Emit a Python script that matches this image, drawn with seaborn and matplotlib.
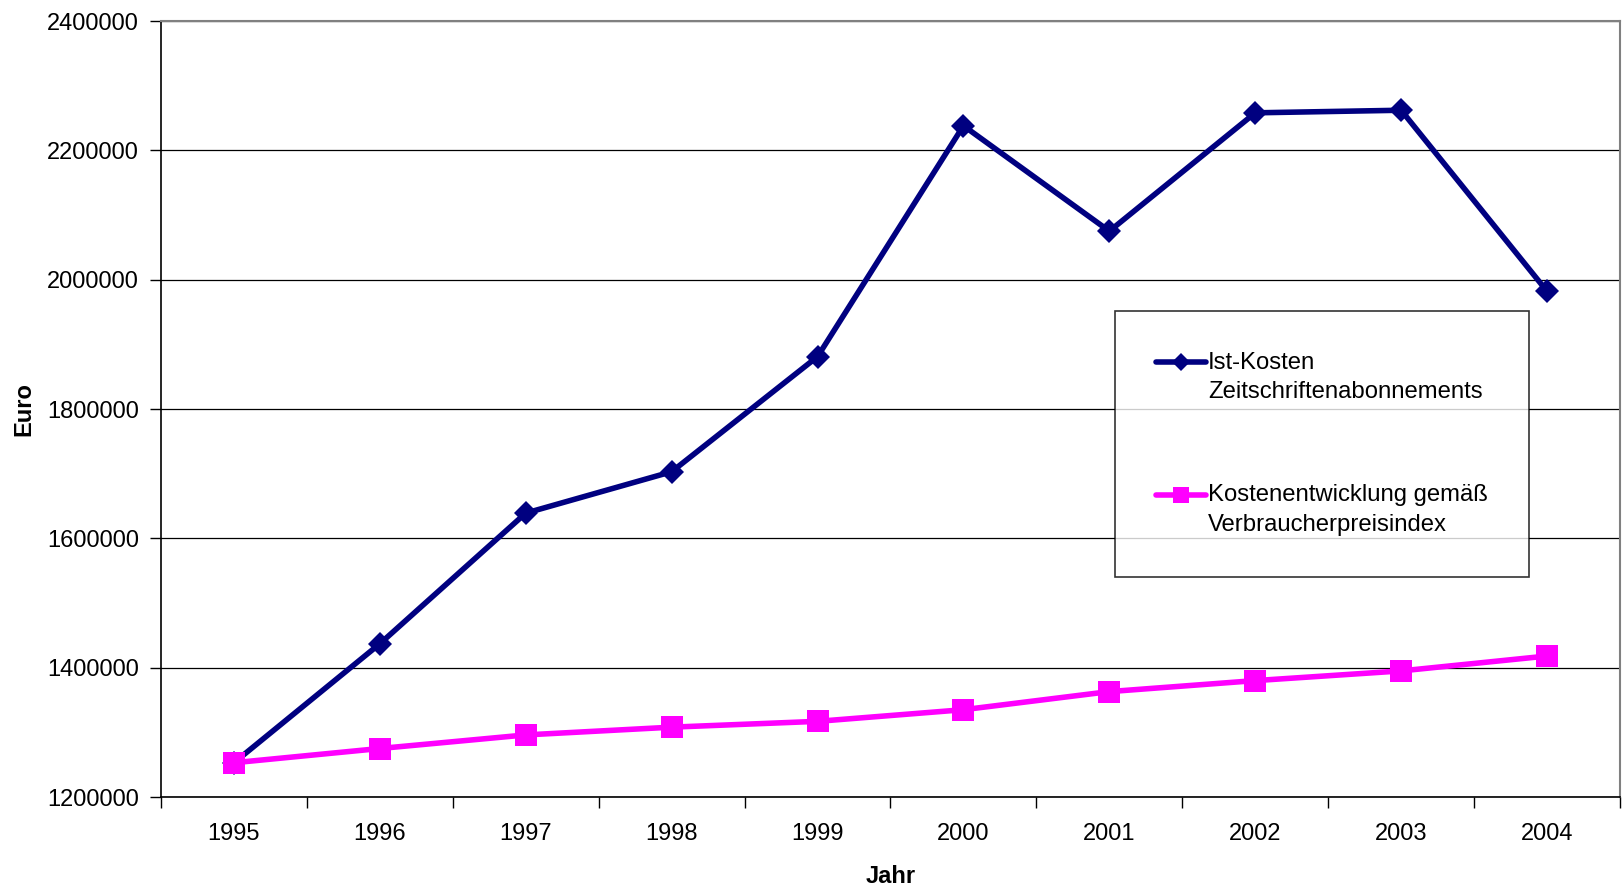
import matplotlib
matplotlib.use("Agg")
import matplotlib.pyplot as plt
import seaborn as sns
import pandas as pd
from matplotlib.ticker import FuncFormatter, FixedLocator
from matplotlib.legend_handler import HandlerLine2D
from matplotlib.lines import Line2D

jahre = [1995, 1996, 1997, 1998, 1999, 2000, 2001, 2002, 2003, 2004]
ist_kosten = [1253000, 1437000, 1639000, 1703000, 1881000, 2238000, 2075000, 2258000, 2262000, 1982000]
vpi_kosten = [1253000, 1275000, 1296000, 1308000, 1317000, 1335000, 1363000, 1380000, 1395000, 1418000]
serien = ["Ist-Kosten\nZeitschriftenabonnements", "Kostenentwicklung gemäß\nVerbraucherpreisindex"]
y_ticks = [1200000, 1400000, 1600000, 1800000, 2000000, 2200000, 2400000]

sns.set_theme(style="white")
plt.rcParams['font.family'] = ['Liberation Sans', 'DejaVu Sans']
plt.rcParams.update({"text.color": "black", "axes.labelcolor": "black",
                     "xtick.color": "black", "ytick.color": "black"})

df = pd.concat([
    pd.DataFrame({"Jahr": jahre, "Euro": ist_kosten, "Serie": serien[0]}),
    pd.DataFrame({"Jahr": jahre, "Euro": vpi_kosten, "Serie": serien[1]}),
])

fig = plt.figure(figsize=(16.24, 8.93), dpi=100)
ax = fig.add_axes([161/1624, 1-797/893, (1620-161)/1624, (797-21)/893])

sns.lineplot(data=df, x="Jahr", y="Euro", hue="Serie", style="Serie",
             palette={serien[0]: "#000080", serien[1]: "#FF00FF"},
             markers={serien[0]: "D", serien[1]: "s"},
             dashes=False, linewidth=4, ax=ax, zorder=3)
for line in ax.get_lines():
    if line.get_marker() == "D":
        line.set_markersize(12.5)
    else:
        line.set_markersize(16.5)
    line.set_markeredgewidth(0)

ax.set_xlim(1994.5, 2004.5)
ax.set_ylim(1200000, 2400000)
ax.set_yticks(y_ticks)
ax.yaxis.set_major_formatter(FuncFormatter(lambda v, p: f"{int(v)}"))
ax.set_xticks(jahre)
ax.set_xticklabels([str(j) for j in jahre])
ax.xaxis.set_minor_locator(FixedLocator([j + 0.5 for j in [1994] + jahre]))
ax.tick_params(axis="x", which="major", length=0, pad=19, labelsize=17, colors="black")
ax.tick_params(axis="x", which="minor", length=8, width=1, color="black", direction="out", bottom=True)
ax.tick_params(axis="y", which="major", length=8, width=1, color="black", direction="out", left=True, pad=8, labelsize=17, labelcolor="black")

ax.yaxis.grid(True, color="black", linewidth=0.9, zorder=0)
ax.xaxis.grid(False)
for side in ["left", "bottom"]:
    ax.spines[side].set_color("black")
    ax.spines[side].set_linewidth(1.2)
for side in ["top", "right"]:
    ax.spines[side].set_color("#808080")
    ax.spines[side].set_linewidth(1.5)

ax.set_xlabel("Jahr", fontsize=17, fontweight="bold", labelpad=14)
ax.set_ylabel("Euro", fontsize=17, fontweight="bold", labelpad=8)


class FirstLineHandler(HandlerLine2D):
    """Place the legend line at the height of the first text line."""
    def __init__(self, shift, **kw):
        super().__init__(**kw)
        self.shift = shift

    def create_artists(self, legend, orig_handle, xdescent, ydescent,
                       width, height, fontsize, trans):
        return super().create_artists(legend, orig_handle, xdescent,
                                      ydescent - 2 * self.shift, width, height,
                                      fontsize, trans)


handles, labels = ax.get_legend_handles_labels()
leg = ax.legend(handles, labels, loc="upper left",
                bbox_to_anchor=(1115/1624, 1-311/893), bbox_transform=fig.transFigure,
                frameon=True, fancybox=False, edgecolor="black", fontsize=17.2,
                handlelength=2.1, handletextpad=0.1, borderpad=1.7,
                labelspacing=3.4, borderaxespad=0,
                handler_map={Line2D: FirstLineHandler(shift=11)})
leg.get_frame().set_linewidth(1.2)
for t in leg.get_texts():
    t.set_linespacing(1.45)
for h in leg.legend_handles:
    h.set_linewidth(4)
    if h.get_marker() == "D":
        h.set_markersize(9.5)
    else:
        h.set_markersize(11)

fig.savefig("out.png", dpi=100)
